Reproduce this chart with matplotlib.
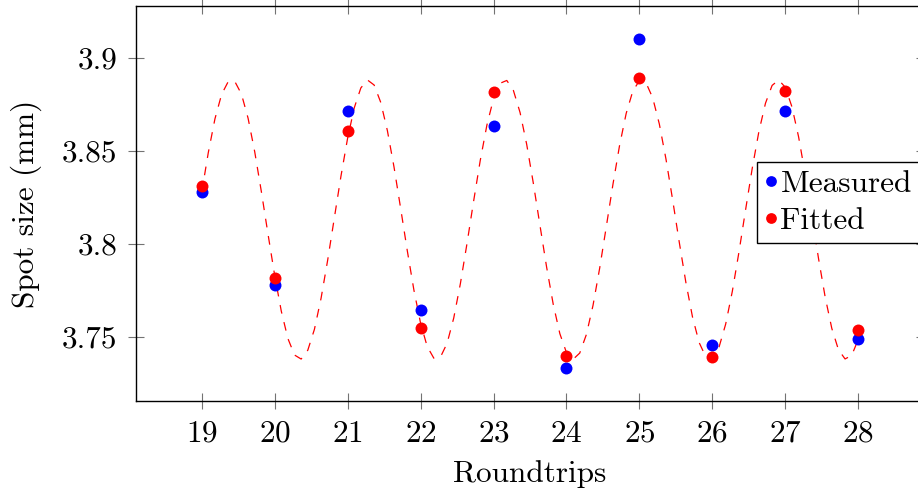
import numpy as np
import matplotlib.pyplot as plt
from matplotlib.ticker import FormatStrFormatter

plt.rcParams['font.family'] = 'cmr10'
plt.rcParams['axes.formatter.use_mathtext'] = True
plt.rcParams['font.size'] = 22.5

# Data
roundtrips = [19, 20, 21, 22, 23, 24, 25, 26, 27, 28]
measured = [3.828, 3.778, 3.8713, 3.7643, 3.8634, 3.7332, 3.9099, 3.7457, 3.8712, 3.7489]
fitted = [3.8312, 3.7817, 3.8608, 3.7550, 3.8814, 3.7400, 3.8889, 3.7394, 3.8823, 3.7539]

# sinusoidal fit model (parameters)
fit_offset = 3.813
fit_amp = 0.075
fit_period = 1.873
fit_peak = 19.41

x_fit = np.linspace(roundtrips[0], roundtrips[-1], 100)
y_fit = fit_offset + fit_amp * np.cos(2 * np.pi * (x_fit - fit_peak) / fit_period)

fig = plt.figure(figsize=(9.18, 4.91), dpi=100)
ax = fig.add_axes([136 / 918, 1 - 401 / 491, (924 - 136) / 918, 395 / 491])

ax.plot(x_fit, y_fit, color='red', lw=0.9, dashes=(7, 7))
ax.plot(roundtrips, measured, 'o', color='blue', ms=8.6, mec='none', label='Measured')
ax.plot(roundtrips, fitted, 'o', color='red', ms=8.6, mec='none', label='Fitted')

ax.set_xlim(18.1, 28.9)
ax.set_ylim(3.7156, 3.9277)
ax.set_xticks(roundtrips)
ax.set_yticks([3.75, 3.8, 3.85, 3.9])
ax.yaxis.set_major_formatter(FormatStrFormatter('%g'))
ax.tick_params(direction='inout', length=11, width=0.8, color='0.45',
               top=True, right=True, pad=8)
for s in ax.spines.values():
    s.set_linewidth(1.0)

ax.set_xlabel('Roundtrips', labelpad=9)
ax.set_ylabel('Spot size (mm)', labelpad=14)

leg = ax.legend(loc='upper left', bbox_to_anchor=((757 - 136) / 788, (401 - 162) / 395),
                frameon=True, fancybox=False, edgecolor='black', framealpha=1,
                handlelength=0.4, handletextpad=0.1, borderpad=0.25,
                labelspacing=0.3, borderaxespad=0, markerscale=0.9)
leg.get_frame().set_linewidth(1.0)

fig.savefig('out.png', dpi=100)
